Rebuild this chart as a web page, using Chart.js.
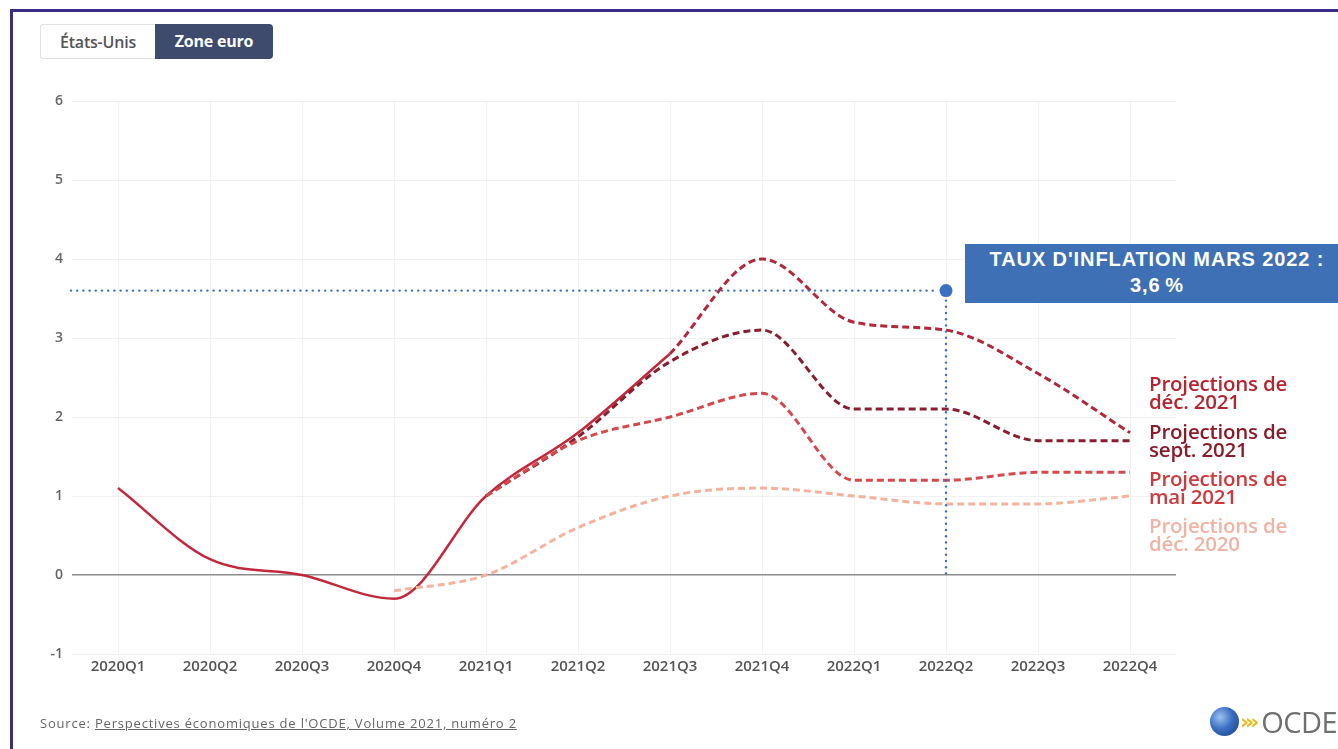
<!DOCTYPE html>
<html lang="fr">
<head>
<meta charset="utf-8">
<script src="https://cdn.jsdelivr.net/npm/chart.js@4.4.1/dist/chart.umd.min.js"></script>
<style>
  html, body { margin: 0; padding: 0; background: #fff; }
  body { width: 1338px; height: 749px; position: relative; overflow: hidden; font-family: "Open Sans", sans-serif; }
  #frame { position: absolute; left: 10px; top: 9px; width: 1400px; height: 800px; border-left: 3px solid #3b2d86; border-top: 3px solid #3b2d86; }
  #wrap { position: absolute; left: 0; top: 0; width: 1338px; height: 749px; }
  .btns { position: absolute; left: 40px; top: 24px; height: 35px; display: flex; }
  .btn { height: 35px; line-height: 35px; font-size: 16px; box-sizing: border-box; text-align: center; letter-spacing: -0.2px; }
  .btn.off { background: #fff; color: #555; border: 1px solid #e2e2e2; border-right: none; border-radius: 3px 0 0 3px; width: 115px; font-weight: 600; }
  .btn.on { background: #3e4b6c; color: #fff; border-radius: 0 4px 4px 0; font-weight: 700; width: 118px; }
  .lbl { position: absolute; left: 1149px; font-size: 20.5px; font-weight: 600; line-height: 18px; letter-spacing: -0.2px; }
  .note { position: absolute; left: 965px; top: 244px; width: 384px; height: 59px; background: #3e70b5; color: #fff;
          font-family: "Liberation Sans", Arial, sans-serif; font-weight: 700; font-size: 20px; letter-spacing: 0.9px; line-height: 26px; text-align: center; box-sizing: border-box; padding-top: 2px; }
  .src { position: absolute; left: 40px; top: 714px; font-size: 13px; letter-spacing: 0.8px; color: #666; }
  .src a { color: #666; text-decoration: underline; }
  .logo { position: absolute; left: 1210px; top: 705px; height: 32px; display: flex; align-items: center; }
  .globe { width: 29px; height: 29px; border-radius: 50%; background: radial-gradient(circle at 35% 35%, #9cc3f0 0%, #3b6fc2 45%, #163a80 100%); }
  .chev { color: #e6bd1c; font-weight: 700; font-size: 22px; margin-left: 1px; letter-spacing: -4px; font-family: "DejaVu Sans", sans-serif; }
  .ocde { color: #707070; font-size: 29px; font-weight: 400; margin-left: 6px; letter-spacing: -0.5px; font-family: "Open Sans", sans-serif; }
</style>
</head>
<body>
<div id="wrap"><canvas id="c" width="1338" height="749"></canvas></div>
<div id="frame"></div>
<div class="btns"><div class="btn off">États-Unis</div><div class="btn on">Zone euro</div></div>
<div class="lbl" style="top:374px;color:#b3262f;">Projections de<br>déc. 2021</div>
<div class="lbl" style="top:422px;color:#8a1c2a;">Projections de<br>sept. 2021</div>
<div class="lbl" style="top:469px;color:#cc3a3e;">Projections de<br>mai 2021</div>
<div class="lbl" style="top:516px;color:#f0b4a6;">Projections de<br>déc. 2020</div>
<div class="note">TAUX D'INFLATION MARS 2022 :<br>3,6&#8201;%</div>
<div class="src">Source: <a>Perspectives économiques de l'OCDE, Volume 2021, numéro 2</a></div>
<div class="logo"><div class="globe"></div><span class="chev">›››</span><span class="ocde">OCDE</span></div>
<script>
const categories = ['2020Q1','2020Q2','2020Q3','2020Q4','2021Q1','2021Q2','2021Q3','2021Q4','2022Q1','2022Q2','2022Q3','2022Q4'];
const actual     = [1.1, 0.2, 0.0, -0.3, 1.0, 1.8, 2.8, null, null, null, null, null];
const projDec21  = [null, null, null, null, null, null, 2.8, 4.0, 3.2, 3.1, 2.55, 1.8];
const projSep21  = [null, null, null, null, 1.0, 1.75, 2.7, 3.1, 2.1, 2.1, 1.7, 1.7];
const projMai21  = [null, null, null, null, 1.0, 1.7, 2.0, 2.3, 1.2, 1.2, 1.3, 1.3];
const projDec20  = [null, null, null, -0.2, 0.0, 0.6, 1.0, 1.1, 1.0, 0.9, 0.9, 1.0];
const yTicks     = [-1, 0, 1, 2, 3, 4, 5, 6];
const noteCategory = '2022Q2';
const noteValue    = 3.6;

const dashed = (data, color) => ({
  data, borderColor: color, backgroundColor: color, borderWidth: 3, borderDash: [7, 4],
  pointRadius: 0, cubicInterpolationMode: 'monotone', spanGaps: false, fill: false
});

const notePlugin = {
  id: 'note',
  afterDatasetsDraw(chart) {
    const {ctx, chartArea, scales} = chart;
    const x = scales.x.getPixelForValue(categories.indexOf(noteCategory));
    const y = scales.y.getPixelForValue(noteValue);
    const y0 = scales.y.getPixelForValue(0);
    ctx.save();
    ctx.fillStyle = '#3a6fc4';
    for (let px = chartArea.left - 1; px < x - 8; px += 6.2) {
      ctx.beginPath(); ctx.arc(px, y, 1.2, 0, Math.PI * 2); ctx.fill();
    }
    for (let py = y + 10; py <= y0; py += 6.2) {
      ctx.beginPath(); ctx.arc(x, py, 1.2, 0, Math.PI * 2); ctx.fill();
    }
    ctx.beginPath(); ctx.arc(x, y, 6.5, 0, Math.PI * 2); ctx.fill();
    ctx.restore();
  }
};

new Chart(document.getElementById('c'), {
  type: 'line',
  data: {
    labels: categories,
    datasets: [
      dashed(projDec20, '#f3b39f'),
      dashed(projMai21, '#d34a4e'),
      dashed(projSep21, '#86202e'),
      dashed(projDec21, '#b0283a'),
      { data: actual, borderColor: '#c2293d', borderWidth: 2.5, pointRadius: 0, cubicInterpolationMode: 'monotone', fill: false }
    ]
  },
  options: {
    responsive: false,
    animation: false,
    events: [],
    layout: { padding: { left: 0, right: 162, top: 101, bottom: 0 } },
    plugins: { legend: { display: false }, tooltip: { enabled: false } },
    scales: {
      x: {
        offset: true,
        grid: { color: '#f2f2f2', drawTicks: false, offset: false },
        border: { display: false },
        ticks: { color: '#555', font: { family: 'Open Sans', size: 15, weight: '600' }, padding: 4, maxRotation: 0 },
        afterFit(s) { s.height = 95; }
      },
      y: {
        min: -1, max: 6,
        afterBuildTicks(s) { s.ticks = yTicks.map(v => ({ value: v })); },
        grid: {
          drawTicks: false,
          color: c => c.tick && c.tick.value === 0 ? '#8c8c8c' : '#f0f0f0',
          lineWidth: c => c.tick && c.tick.value === 0 ? 1.5 : 1
        },
        border: { display: false },
        ticks: { color: '#666', font: { family: 'Open Sans', size: 14, weight: '600' }, padding: 9 },
        afterFit(s) { s.width = 72; }
      }
    }
  },
  plugins: [notePlugin]
});
</script>
</body>
</html>
